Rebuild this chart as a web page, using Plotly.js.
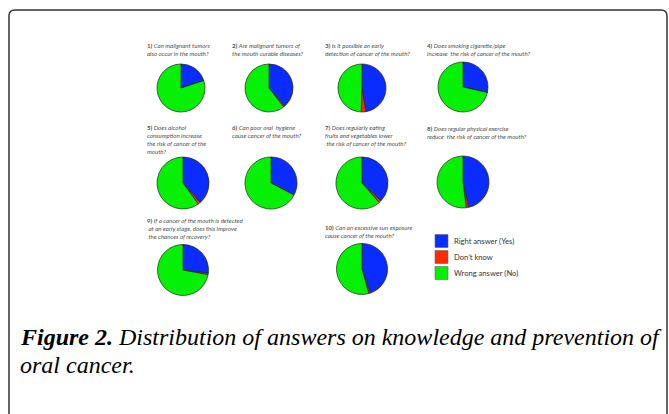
<!DOCTYPE html>
<html><head><meta charset="utf-8">
<script src="https://cdn.plot.ly/plotly-3.0.1.min.js"></script>
<style>html,body{margin:0;padding:0;background:#fff}#chart{width:669px;height:414px}</style>
</head><body><div id="chart"></div>
<script>
// Answer categories (legend)
const categories = ["Right answer (Yes)", "Don\u2019t know", "Wrong answer (No)"];
const colors = ["#0a2cff", "#ff2a00", "#05f005"];

// Question labels
const questionNumbers = ["1)", "2)", "3)", "4)", "5)", "6)", "7)", "8)", "9)", "10)"];
const questionTexts = [
  ["Can malignant tumors", "also occur in the mouth?"],
  ["Are malignant tumors of", "the mouth curable diseases?"],
  ["Is it possible an early", "detection of cancer of the mouth?"],
  ["Does smoking cigarette/pipe", "increase  the risk of cancer of the mouth?"],
  ["Does alcohol", "consumption increase", "the risk of cancer of the", "mouth?"],
  ["Can poor oral  hygiene", "cause cancer of the mouth?"],
  ["Does regularly eating", "fruits and vegetables lower", " the risk of cancer of the mouth?"],
  ["Does regular physical exercise", "reduce  the risk of cancer of the mouth?"],
  ["If a cancer of the mouth is detected", " at an early stage, does this improve", " the chances of recovery?"],
  ["Can an excessive sun exposure", "cause cancer of the mouth?"]
];

// Percentages per question
const yesValues      = [20, 38.5, 47.5, 28.5, 38.5, 32.7, 37, 46.5, 27, 44.7];
const dontKnowValues = [0, 1, 3, 0, 1.5, 0, 1.5, 1.5, 1, 1];
const noValues       = [80, 60.5, 49.5, 71.5, 60, 67.3, 61.5, 52, 72, 54.3];

const W = 669, H = 414;
// layout: pie centres / radius (px) and title positions (px)
const pieLayout = [
  [181, 88, 24], [269, 88, 24], [362, 88, 24], [463, 87, 25],
  [183, 183, 26], [271, 183, 26], [362, 183, 26], [463, 182, 26],
  [183, 270, 25.5], [362, 269, 25.5]
];
const titlePos = [
  [146, 41], [231, 41], [324, 41], [426, 41],
  [146, 123], [231, 123], [324, 123], [426, 124],
  [146, 216], [324, 223]
];

const data = [];
const annotations = [];
const shapes = [];
for (let i = 0; i < yesValues.length; i++) {
  const [cx, cy, r] = pieLayout[i];
  data.push({
    type: 'pie',
    values: [yesValues[i], dontKnowValues[i], noValues[i]],
    labels: categories,
    sort: false,
    direction: 'clockwise',
    rotation: 0,
    textinfo: 'none',
    hoverinfo: 'label+percent',
    showlegend: false,
    marker: {colors: colors, line: {color: '#222', width: 0.7}},
    domain: {x: [(cx - r) / W, (cx + r) / W], y: [1 - (cy + r) / H, 1 - (cy - r) / H]}
  });
  const [tx, ty] = titlePos[i];
  const lines = questionTexts[i].map(t => '<i>' + t.replace(/  /g, ' &nbsp;') + '</i>');
  lines[0] = '<b>' + questionNumbers[i] + '</b> ' + lines[0];
  annotations.push({
    xref: 'paper', yref: 'paper', x: tx / W, y: 1 - ty / H,
    xanchor: 'left', yanchor: 'top', align: 'left', showarrow: false,
    text: lines.join('<br>'),
    font: {family: 'Lato, Carlito, sans-serif', size: 6.1, color: '#505050'},
    borderpad: 0
  });
}

// legend built from categories
const legendY = [241, 257, 273];
categories.forEach((c, k) => {
  shapes.push({type: 'rect', xref: 'paper', yref: 'paper',
    x0: 435 / W, x1: 448 / W, y0: 1 - (legendY[k] + 6.5) / H, y1: 1 - (legendY[k] - 6.5) / H,
    fillcolor: colors[k], line: {color: '#666', width: 0.6}});
  annotations.push({xref: 'paper', yref: 'paper', x: 452 / W, y: 1 - legendY[k] / H,
    xanchor: 'left', yanchor: 'middle', showarrow: false, text: c,
    font: {family: 'Lato, sans-serif', size: 7.6, color: '#333'}});
});

// caption
annotations.push({xref: 'paper', yref: 'paper', x: 18 / W, y: 1 - 337 / H,
  xanchor: 'left', yanchor: 'middle', showarrow: false, align: 'left',
  text: '<b><i>Figure 2.</i></b><i> Distribution of answers on knowledge and prevention of</i>',
  font: {family: 'Liberation Serif, serif', size: 24, color: '#000'}});
annotations.push({xref: 'paper', yref: 'paper', x: 18 / W, y: 1 - 365 / H,
  xanchor: 'left', yanchor: 'middle', showarrow: false, align: 'left',
  text: '<i>oral cancer.</i>',
  font: {family: 'Liberation Serif, serif', size: 24, color: '#000'}});

// frame with rounded top corners
const P = (x, y) => (x / W) + ',' + (1 - y / H);
shapes.push({type: 'path', xref: 'paper', yref: 'paper',
  path: 'M' + P(9, 414) + ' L' + P(9, 16) + ' Q' + P(9, 10) + ' ' + P(15, 10) +
        ' L' + P(661, 10) + ' Q' + P(667, 10) + ' ' + P(667, 16) + ' L' + P(667, 414),
  line: {color: '#333', width: 1.5}});

const layout = {
  width: W, height: H,
  margin: {l: 0, r: 0, t: 0, b: 0},
  paper_bgcolor: '#fff',
  showlegend: false,
  annotations: annotations,
  shapes: shapes
};
Plotly.newPlot('chart', data, layout, {displayModeBar: false, staticPlot: true});
</script>
</body></html>
